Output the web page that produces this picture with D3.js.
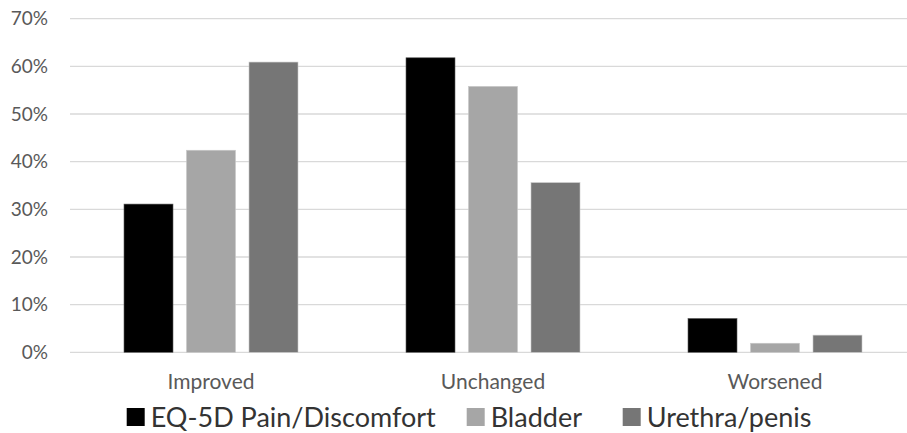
<!DOCTYPE html>
<html><head><meta charset="utf-8">
<script src="https://cdn.jsdelivr.net/npm/d3@7"></script>
<style>html,body{margin:0;padding:0;background:#fff;}svg{display:block;}</style>
</head><body>
<svg id="chart" width="907" height="433"></svg>
<script>
const categories = ["Improved", "Unchanged", "Worsened"];
const seriesNames = ["EQ-5D Pain/Discomfort", "Bladder", "Urethra/penis"];
const painValues = [31.1, 61.8, 7.1];
const bladderValues = [42.4, 55.8, 1.9];
const urethraValues = [60.9, 35.6, 3.6];
const yTicks = [0, 10, 20, 30, 40, 50, 60, 70];
const colors = ["#000000", "#a6a6a6", "#767676"];

const series = [painValues, bladderValues, urethraValues];
const svg = d3.select("#chart");
const font = "Lato, 'Open Sans', sans-serif";

const x0 = d3.scaleBand().domain(categories).range([70, 916]).paddingInner(0).paddingOuter(0);
const x1 = d3.scaleBand().domain(d3.range(3)).range([0, 174]).paddingInner(0.216).paddingOuter(0);
const y = d3.scaleLinear().domain([0, 70]).range([352.3, 18.7]);

// gridlines
svg.append("g").selectAll("line").data(yTicks).join("line")
  .attr("x1", 70).attr("x2", 907)
  .attr("y1", d => y(d)).attr("y2", d => y(d))
  .attr("stroke", "#d9d9d9").attr("stroke-width", 1.3);

// y axis labels
const yAxis = d3.axisLeft(y).tickValues(yTicks).tickFormat(d => d + "%").tickSize(0).tickPadding(0);
const ya = svg.append("g").attr("transform", "translate(48,0)").call(yAxis);
ya.select(".domain").remove();
ya.selectAll("text").attr("font-family", font).attr("font-size", 19).attr("fill", "#595959");

// bars
const groupOffset = (x0.bandwidth() - 174) / 2;
const g = svg.append("g");
categories.forEach((c, ci) => {
  series.forEach((vals, si) => {
    g.append("rect")
      .attr("x", x0(c) + groupOffset + x1(si))
      .attr("width", x1.bandwidth())
      .attr("y", y(vals[ci]))
      .attr("height", y(0) - y(vals[ci]))
      .attr("fill", colors[si])
      .attr("stroke", si === 0 ? "#5a5a5a" : "#c8c8c8")
      .attr("stroke-width", 0.6);
  });
});

// x axis labels
const xAxis = d3.axisBottom(x0).tickSize(0).tickPadding(0);
const xa = svg.append("g").attr("transform", "translate(0,374)").call(xAxis);
xa.select(".domain").remove();
xa.selectAll("text").attr("font-family", font).attr("font-size", 21).attr("fill", "#595959");

// legend
const legendX = [126.7, 466.7, 622.7];
const lg = svg.append("g");
seriesNames.forEach((n, i) => {
  lg.append("rect").attr("x", legendX[i]).attr("y", 408).attr("width", 18).attr("height", 18).attr("fill", colors[i]);
  lg.append("text").attr("x", legendX[i] + 24).attr("y", 426.5)
    .attr("font-family", font).attr("font-size", 27).attr("fill", "#333333").text(n);
});
</script>
</body></html>
